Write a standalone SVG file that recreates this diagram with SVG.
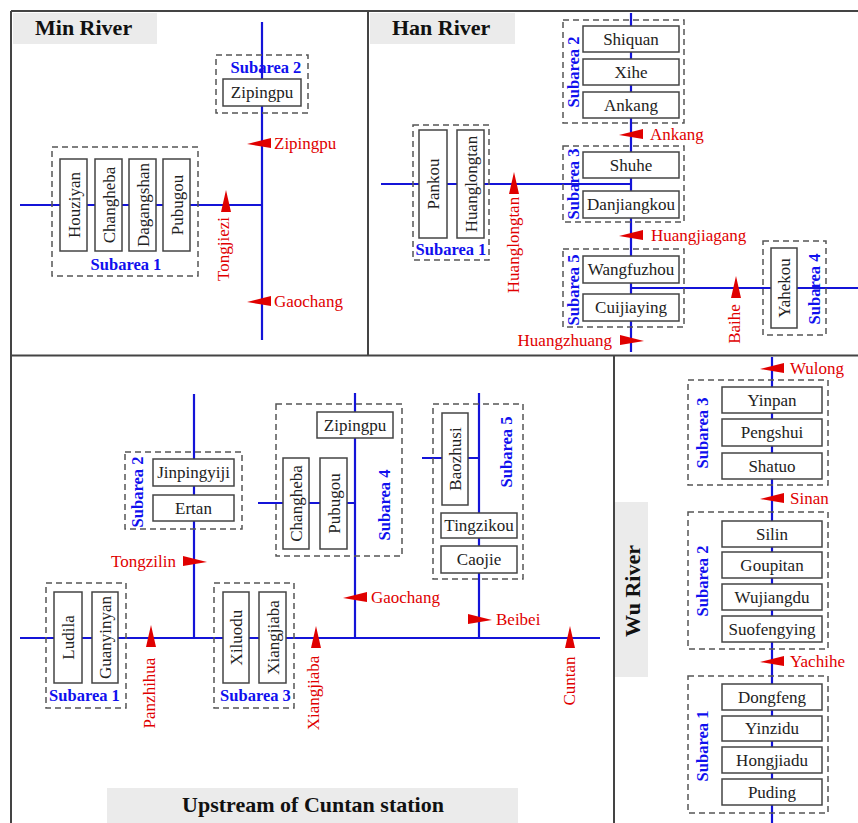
<svg xmlns="http://www.w3.org/2000/svg" width="858" height="823" viewBox="0 0 858 823">
<style>
.frame{stroke:#444;stroke-width:2;fill:none}
.ttl{fill:#ebebeb}
.tt{font-family:"Liberation Serif",serif;font-weight:bold;font-size:22px;fill:#111}
.river{stroke:#1414d8;stroke-width:2.2;fill:none}
.sub{fill:none;stroke:#555;stroke-width:1.5;stroke-dasharray:6 4}
.st{font-family:"Liberation Serif",serif;font-weight:bold;font-size:16.5px;fill:#1010ee;text-anchor:middle}
.box{fill:#fff;stroke:#444;stroke-width:1.5}
.nt{font-family:"Liberation Serif",serif;font-size:17px;fill:#222;text-anchor:middle}
.flag{fill:#e00000}
.gt{font-family:"Liberation Serif",serif;font-size:17px;fill:#e00000}
</style>
<defs>
<path id="fL" d="M0,0 L24,-6 L24,4 Z"/>
<path id="fR" d="M0,0 L-24,-6 L-24,4 Z"/>
<path id="fU" d="M0,0 L-5,22 L5,22 Z"/>
</defs>
<rect width="858" height="823" fill="#fff"/>

<!-- panel titles -->
<rect class="ttl" x="13" y="13" width="144" height="31"/>
<text class="tt" x="35" y="35">Min River</text>
<rect class="ttl" x="370" y="13" width="145" height="31"/>
<text class="tt" x="392" y="35">Han River</text>
<rect class="ttl" x="107" y="788" width="411" height="35"/>
<text class="tt" x="313" y="812" text-anchor="middle">Upstream of Cuntan station</text>
<rect class="ttl" x="615" y="502" width="33" height="175"/>
<text class="tt" transform="translate(640 591) rotate(-90)" text-anchor="middle">Wu River</text>

<!-- frames -->
<g id="frames">
<path class="frame" d="M11,11 H858 M11,11 V823 M11,355.5 H858 M368,11 V355.5 M614,355.5 V823"/>
</g>

<!-- connectors -->
<g id="connectors">
<path class="river" d="M262,22 V340 M20,205 H262"/>
<path class="river" d="M631,13 V352 M381,184 H631 M631,288 H858"/>
<path class="river" d="M20,638 H600 M194,394 V638 M355,393 V638 M258,503 H355 M479,393 V638 M422,458 H479"/>
<path class="river" d="M772,357 V823"/>
</g>

<!-- subarea boxes -->
<g id="subareas">
<rect class="sub" x="216" y="55" width="92" height="58"/>
<rect class="sub" x="52" y="147" width="146" height="129"/>
<rect class="sub" x="413" y="125" width="76" height="135"/>
<rect class="sub" x="563" y="20" width="121" height="103"/>
<rect class="sub" x="563" y="146" width="121" height="76"/>
<rect class="sub" x="563" y="249" width="121" height="78"/>
<rect class="sub" x="763" y="241" width="63" height="94"/>
<rect class="sub" x="125" y="452" width="117" height="77"/>
<rect class="sub" x="276" y="404" width="126" height="152"/>
<rect class="sub" x="433" y="404" width="90" height="175"/>
<rect class="sub" x="46" y="583" width="80" height="125"/>
<rect class="sub" x="214" y="583" width="80" height="125"/>
<rect class="sub" x="688" y="380" width="140" height="105"/>
<rect class="sub" x="688" y="512" width="140" height="137"/>
<rect class="sub" x="688" y="676" width="140" height="137"/>
</g>

<!-- subarea labels -->
<g id="subarea-labels">
<text class="st" x="266" y="73">Subarea 2</text>
<text class="st" x="126" y="270">Subarea 1</text>
<text class="st" x="451" y="255">Subarea 1</text>
<text class="st" transform="translate(579 72) rotate(-90)">Subarea 2</text>
<text class="st" transform="translate(579 184) rotate(-90)">Subarea 3</text>
<text class="st" transform="translate(579 290) rotate(-90)">Subarea 5</text>
<text class="st" transform="translate(820 289) rotate(-90)">Subarea 4</text>
<text class="st" transform="translate(143 492) rotate(-90)">Subarea 2</text>
<text class="st" transform="translate(390 505) rotate(-90)">Subarea 4</text>
<text class="st" transform="translate(512 452) rotate(-90)">Subarea 5</text>
<text class="st" x="84.5" y="701">Subarea 1</text>
<text class="st" x="255.5" y="701">Subarea 3</text>
<text class="st" transform="translate(708 433) rotate(-90)">Subarea 3</text>
<text class="st" transform="translate(708 581) rotate(-90)">Subarea 2</text>
<text class="st" transform="translate(708 746) rotate(-90)">Subarea 1</text>
</g>

<!-- Min River nodes -->
<g id="min-zipingpu"><rect class="box" x="223" y="79" width="78" height="27"/><text class="nt" x="262" y="98">Zipingpu</text></g>
<g id="min-houziyan"><rect class="box" x="60" y="159" width="27" height="92"/><text class="nt" transform="rotate(-90 73.5 205)" x="73.5" y="211">Houziyan</text></g>
<g id="min-changheba"><rect class="box" x="95" y="159" width="27" height="92"/><text class="nt" transform="rotate(-90 108.5 205)" x="108.5" y="211">Changheba</text></g>
<g id="min-dagangshan"><rect class="box" x="129" y="159" width="27" height="92"/><text class="nt" transform="rotate(-90 142.5 205)" x="142.5" y="211">Dagangshan</text></g>
<g id="min-pubugou"><rect class="box" x="163" y="159" width="27" height="92"/><text class="nt" transform="rotate(-90 176.5 205)" x="176.5" y="211">Pubugou</text></g>

<!-- Han River nodes -->
<g id="han-pankou"><rect class="box" x="419" y="130" width="28" height="108"/><text class="nt" transform="rotate(-90 433 184)" x="433" y="190">Pankou</text></g>
<g id="han-huanglongtan"><rect class="box" x="457" y="130" width="27" height="108"/><text class="nt" transform="rotate(-90 470.5 184)" x="470.5" y="190">Huanglongtan</text></g>
<g id="han-shiquan"><rect class="box" x="583" y="26" width="96" height="26"/><text class="nt" x="631" y="45">Shiquan</text></g>
<g id="han-xihe"><rect class="box" x="583" y="59" width="96" height="26"/><text class="nt" x="631" y="78">Xihe</text></g>
<g id="han-ankang"><rect class="box" x="583" y="92" width="96" height="26"/><text class="nt" x="631" y="111">Ankang</text></g>
<g id="han-shuhe"><rect class="box" x="583" y="152" width="96" height="26"/><text class="nt" x="631" y="171">Shuhe</text></g>
<g id="han-danjiangkou"><rect class="box" x="583" y="191" width="96" height="27"/><text class="nt" x="631" y="210">Danjiangkou</text></g>
<g id="han-wangfuzhou"><rect class="box" x="583" y="256" width="96" height="27"/><text class="nt" x="631" y="275">Wangfuzhou</text></g>
<g id="han-cuijiaying"><rect class="box" x="583" y="294" width="96" height="27"/><text class="nt" x="631" y="313">Cuijiaying</text></g>
<g id="han-yahekou"><rect class="box" x="771" y="248" width="26" height="80"/><text class="nt" transform="rotate(-90 784 288)" x="784" y="294">Yahekou</text></g>

<!-- Upstream of Cuntan nodes -->
<g id="up-jinpingyiji"><rect class="box" x="153" y="459" width="81" height="27"/><text class="nt" x="193.5" y="478">Jinpingyiji</text></g>
<g id="up-ertan"><rect class="box" x="153" y="495" width="81" height="26"/><text class="nt" x="193.5" y="514">Ertan</text></g>
<g id="up-zipingpu"><rect class="box" x="317" y="412" width="76" height="26"/><text class="nt" x="355" y="431">Zipingpu</text></g>
<g id="up-changheba"><rect class="box" x="283" y="458" width="26" height="91"/><text class="nt" transform="rotate(-90 296 503.5)" x="296" y="509.5">Changheba</text></g>
<g id="up-pubugou"><rect class="box" x="320" y="458" width="27" height="91"/><text class="nt" transform="rotate(-90 333.5 503.5)" x="333.5" y="509.5">Pubugou</text></g>
<g id="up-baozhusi"><rect class="box" x="442" y="413" width="26" height="92"/><text class="nt" transform="rotate(-90 455 459)" x="455" y="465">Baozhusi</text></g>
<g id="up-tingzikou"><rect class="box" x="441" y="513" width="76" height="25"/><text class="nt" x="479" y="531">Tingzikou</text></g>
<g id="up-caojie"><rect class="box" x="441" y="546" width="76" height="27"/><text class="nt" x="479" y="565">Caojie</text></g>
<g id="up-ludila"><rect class="box" x="54" y="592" width="28" height="91"/><text class="nt" transform="rotate(-90 68 637.5)" x="68" y="643.5">Ludila</text></g>
<g id="up-guanyinyan"><rect class="box" x="92" y="592" width="26" height="91"/><text class="nt" transform="rotate(-90 105 637.5)" x="105" y="643.5">Guanyinyan</text></g>
<g id="up-xiluodu"><rect class="box" x="223" y="592" width="26" height="91"/><text class="nt" transform="rotate(-90 236 637.5)" x="236" y="643.5">Xiluodu</text></g>
<g id="up-xiangjiaba"><rect class="box" x="259" y="592" width="27" height="91"/><text class="nt" transform="rotate(-90 272.5 637.5)" x="272.5" y="643.5">Xiangjiaba</text></g>

<!-- Wu River nodes -->
<g id="wu-yinpan"><rect class="box" x="722" y="387" width="100" height="26"/><text class="nt" x="772" y="406">Yinpan</text></g>
<g id="wu-pengshui"><rect class="box" x="722" y="419" width="100" height="27"/><text class="nt" x="772" y="438">Pengshui</text></g>
<g id="wu-shatuo"><rect class="box" x="722" y="453" width="100" height="26"/><text class="nt" x="772" y="472">Shatuo</text></g>
<g id="wu-silin"><rect class="box" x="722" y="521" width="100" height="26"/><text class="nt" x="772" y="540">Silin</text></g>
<g id="wu-goupitan"><rect class="box" x="722" y="552" width="100" height="26"/><text class="nt" x="772" y="571">Goupitan</text></g>
<g id="wu-wujiangdu"><rect class="box" x="722" y="584" width="100" height="26"/><text class="nt" x="772" y="603">Wujiangdu</text></g>
<g id="wu-suofengying"><rect class="box" x="722" y="616" width="100" height="26"/><text class="nt" x="772" y="635">Suofengying</text></g>
<g id="wu-dongfeng"><rect class="box" x="722" y="684" width="100" height="26"/><text class="nt" x="772" y="703">Dongfeng</text></g>
<g id="wu-yinzidu"><rect class="box" x="722" y="716" width="100" height="25"/><text class="nt" x="772" y="734">Yinzidu</text></g>
<g id="wu-hongjiadu"><rect class="box" x="722" y="747" width="100" height="26"/><text class="nt" x="772" y="766">Hongjiadu</text></g>
<g id="wu-puding"><rect class="box" x="722" y="779" width="100" height="26"/><text class="nt" x="772" y="798">Puding</text></g>

<!-- gauging stations -->
<g id="stations">
<use href="#fL" class="flag" x="247" y="144"/><text class="gt" x="274" y="149">Zipingpu</text>
<use href="#fU" class="flag" x="226" y="190"/><text class="gt" transform="translate(229 249) rotate(-90)" text-anchor="middle">Tongjiezi</text>
<use href="#fL" class="flag" x="247" y="302"/><text class="gt" x="274" y="307">Gaochang</text>

<use href="#fU" class="flag" x="514" y="172"/><text class="gt" transform="translate(518.5 245) rotate(-90)" text-anchor="middle">Huanglongtan</text>
<use href="#fL" class="flag" x="619" y="135"/><text class="gt" x="650" y="140">Ankang</text>
<use href="#fL" class="flag" x="619" y="236"/><text class="gt" x="651" y="241">Huangjiagang</text>
<use href="#fU" class="flag" x="736" y="276"/><text class="gt" transform="translate(740 324) rotate(-90)" text-anchor="middle">Baihe</text>
<use href="#fR" class="flag" x="644" y="341"/><text class="gt" x="612" y="346" text-anchor="end">Huangzhuang</text>

<use href="#fR" class="flag" x="207" y="562"/><text class="gt" x="176" y="567" text-anchor="end">Tongzilin</text>
<use href="#fU" class="flag" x="151" y="625"/><text class="gt" transform="translate(155 693) rotate(-90)" text-anchor="middle">Panzhihua</text>
<use href="#fU" class="flag" x="316" y="626"/><text class="gt" transform="translate(318.5 693) rotate(-90)" text-anchor="middle">Xiangjiaba</text>
<use href="#fL" class="flag" x="343" y="598"/><text class="gt" x="371" y="603">Gaochang</text>
<use href="#fR" class="flag" x="492" y="620"/><text class="gt" x="496" y="625">Beibei</text>
<use href="#fU" class="flag" x="570" y="626"/><text class="gt" transform="translate(575 681) rotate(-90)" text-anchor="middle">Cuntan</text>

<use href="#fL" class="flag" x="760" y="369"/><text class="gt" x="790" y="374">Wulong</text>
<use href="#fL" class="flag" x="760" y="499"/><text class="gt" x="790" y="504">Sinan</text>
<use href="#fL" class="flag" x="760" y="662"/><text class="gt" x="790" y="667">Yachihe</text>
</g>
</svg>
